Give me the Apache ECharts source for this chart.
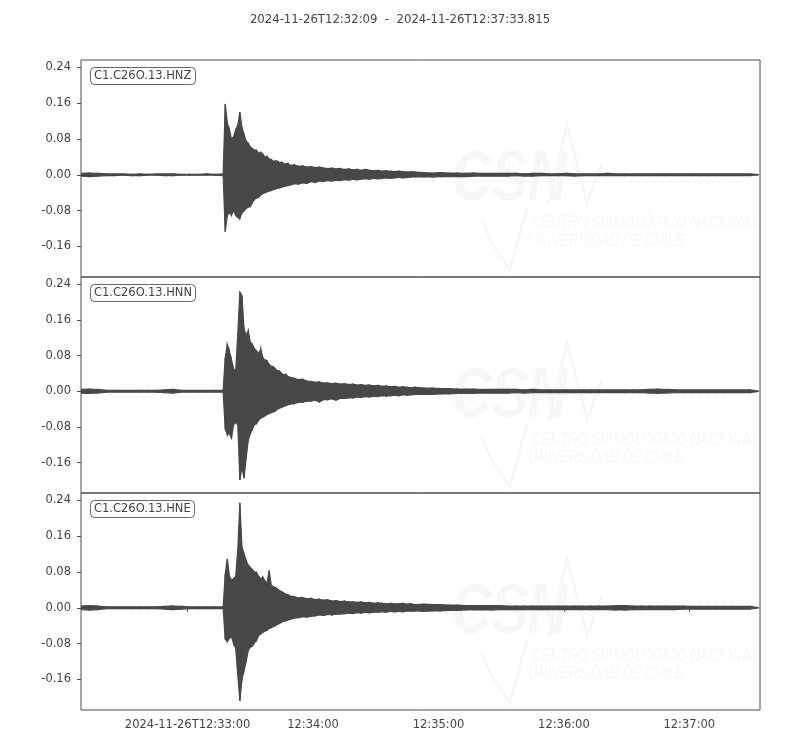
<!DOCTYPE html>
<html>
<head>
<meta charset="utf-8">
<script src="https://cdn.jsdelivr.net/npm/echarts@6/dist/echarts.min.js"></script>
<style>
  html, body { margin: 0; padding: 0; background: #fff; }
  #chart { width: 800px; height: 750px; }
</style>
</head>
<body>
<div id="chart"></div>
<script>
// seconds after 2024-11-26T12:32:09, one envelope bin per entry
const times = [
  0, 4, 8, 12, 16, 20, 24, 28, 32, 36, 40, 44, 48, 52, 56, 60, 64,
  68, 69, 70, 71, 72, 73, 74, 75, 76, 77, 78, 79, 80, 81, 82, 83, 84,
  85, 86, 87, 88, 89, 90, 91, 92, 93, 94, 95, 96, 97, 98, 99, 100,
  102, 104, 106, 108, 110, 112, 114, 116, 118, 120, 122, 124, 126, 128, 130,
  132, 134, 136, 138, 140, 142, 144, 146, 148, 150, 152, 154, 156, 158, 160,
  164, 168, 172, 176, 180, 184, 188, 192, 196, 200, 204, 208, 212, 216, 220,
  224, 228, 232, 236, 240, 244, 248, 252, 256, 260, 264, 268, 272, 276, 280,
  284, 288, 292, 296, 300, 304, 308, 312, 316, 320, 324
];
const endSec = 324.815;

// C1.C26O.13.HNZ envelope (max / min per bin)
const hnzMax = [
  0.003, 0.004, 0.003, 0.002, 0.002, 0.002, 0.001, 0.002, 0.001, 0.002, 0.002, 0.002, 0.001, 0.001, 0.001, 0.002, 0.001,
  0.002, 0.158, 0.115, 0.100, 0.080, 0.085, 0.100, 0.110, 0.140, 0.105, 0.090, 0.075, 0.070, 0.062, 0.058, 0.055, 0.054,
  0.048, 0.050, 0.046, 0.039, 0.041, 0.035, 0.034, 0.030, 0.031, 0.030, 0.027, 0.028, 0.025, 0.024, 0.025, 0.021,
  0.022, 0.019, 0.020, 0.017, 0.018, 0.016, 0.017, 0.015, 0.014, 0.015, 0.013, 0.014, 0.012, 0.013, 0.011,
  0.012, 0.010, 0.012, 0.010, 0.009, 0.010, 0.008, 0.009, 0.008, 0.007, 0.008, 0.007, 0.006, 0.007, 0.006,
  0.005, 0.004, 0.005, 0.004, 0.004, 0.003, 0.004, 0.003, 0.003, 0.003, 0.003, 0.003, 0.002, 0.003, 0.003,
  0.002, 0.002, 0.003, 0.002, 0.002, 0.002, 0.002, 0.003, 0.002, 0.002, 0.002, 0.002, 0.002, 0.002, 0.002,
  0.002, 0.002, 0.002, 0.002, 0.002, 0.002, 0.002, 0.002, 0.002, 0.002, 0.0005
];
const hnzMin = [
  -0.003, -0.004, -0.003, -0.002, -0.002, -0.001, -0.002, -0.002, -0.001, -0.001, -0.002, -0.002, -0.001, -0.001, -0.001, -0.001, -0.001,
  -0.002, -0.127, -0.090, -0.085, -0.090, -0.080, -0.090, -0.095, -0.097, -0.085, -0.080, -0.075, -0.072, -0.070, -0.062, -0.055, -0.052,
  -0.050, -0.045, -0.042, -0.040, -0.038, -0.036, -0.035, -0.033, -0.032, -0.030, -0.029, -0.028, -0.026, -0.025, -0.024, -0.023,
  -0.020, -0.021, -0.018, -0.019, -0.015, -0.017, -0.014, -0.015, -0.013, -0.014, -0.012, -0.013, -0.011, -0.012, -0.010,
  -0.011, -0.010, -0.009, -0.010, -0.008, -0.009, -0.008, -0.007, -0.008, -0.007, -0.006, -0.007, -0.006, -0.005, -0.005,
  -0.005, -0.005, -0.004, -0.004, -0.004, -0.004, -0.003, -0.003, -0.003, -0.003, -0.003, -0.002, -0.003, -0.003, -0.002,
  -0.002, -0.002, -0.002, -0.003, -0.002, -0.002, -0.002, -0.002, -0.002, -0.002, -0.002, -0.002, -0.002, -0.002, -0.002,
  -0.002, -0.002, -0.002, -0.002, -0.002, -0.002, -0.002, -0.002, -0.002, -0.002, -0.0005
];

// C1.C26O.13.HNN envelope
const hnnMax = [
  0.004, 0.005, 0.004, 0.002, 0.002, 0.002, 0.002, 0.002, 0.002, 0.002, 0.003, 0.004, 0.002, 0.002, 0.002, 0.002, 0.002,
  0.002, 0.075, 0.105, 0.090, 0.070, 0.050, 0.045, 0.130, 0.222, 0.214, 0.140, 0.125, 0.136, 0.110, 0.105, 0.095, 0.090,
  0.085, 0.094, 0.075, 0.070, 0.068, 0.060, 0.056, 0.055, 0.050, 0.046, 0.045, 0.040, 0.037, 0.038, 0.033, 0.031,
  0.029, 0.026, 0.027, 0.023, 0.022, 0.020, 0.021, 0.018, 0.019, 0.017, 0.018, 0.016, 0.017, 0.015, 0.016,
  0.014, 0.015, 0.013, 0.014, 0.012, 0.013, 0.011, 0.012, 0.010, 0.011, 0.009, 0.010, 0.009, 0.008, 0.009,
  0.007, 0.007, 0.006, 0.006, 0.005, 0.005, 0.005, 0.004, 0.004, 0.004, 0.004, 0.004, 0.003, 0.004, 0.003,
  0.003, 0.003, 0.003, 0.003, 0.003, 0.003, 0.003, 0.003, 0.003, 0.003, 0.003, 0.003, 0.004, 0.005, 0.004,
  0.003, 0.003, 0.003, 0.003, 0.003, 0.003, 0.003, 0.003, 0.003, 0.003, 0.0005
];
const hnnMin = [
  -0.004, -0.005, -0.004, -0.002, -0.002, -0.002, -0.002, -0.002, -0.002, -0.002, -0.003, -0.004, -0.002, -0.002, -0.002, -0.002, -0.002,
  -0.002, -0.085, -0.097, -0.095, -0.105, -0.075, -0.070, -0.075, -0.199, -0.170, -0.195, -0.150, -0.110, -0.095, -0.085, -0.075, -0.072,
  -0.065, -0.060, -0.058, -0.055, -0.052, -0.050, -0.048, -0.046, -0.044, -0.040, -0.038, -0.036, -0.034, -0.032, -0.030, -0.029,
  -0.028, -0.025, -0.025, -0.022, -0.022, -0.020, -0.024, -0.019, -0.019, -0.017, -0.020, -0.016, -0.016, -0.015, -0.015,
  -0.013, -0.014, -0.012, -0.013, -0.011, -0.012, -0.010, -0.011, -0.010, -0.009, -0.010, -0.008, -0.009, -0.008, -0.007,
  -0.007, -0.007, -0.006, -0.006, -0.005, -0.005, -0.005, -0.004, -0.004, -0.004, -0.004, -0.003, -0.004, -0.003, -0.003,
  -0.003, -0.003, -0.003, -0.003, -0.003, -0.003, -0.003, -0.003, -0.003, -0.003, -0.003, -0.003, -0.004, -0.005, -0.004,
  -0.003, -0.003, -0.003, -0.003, -0.003, -0.003, -0.003, -0.003, -0.003, -0.003, -0.0005
];

// C1.C26O.13.HNE envelope
const hneMax = [
  0.004, 0.005, 0.004, 0.002, 0.002, 0.002, 0.002, 0.002, 0.002, 0.002, 0.003, 0.004, 0.003, 0.002, 0.002, 0.002, 0.002,
  0.002, 0.075, 0.109, 0.070, 0.062, 0.065, 0.070, 0.130, 0.234, 0.135, 0.120, 0.105, 0.095, 0.090, 0.085, 0.080, 0.078,
  0.070, 0.065, 0.068, 0.060, 0.055, 0.083, 0.050, 0.047, 0.045, 0.042, 0.038, 0.036, 0.033, 0.030, 0.029, 0.026,
  0.025, 0.022, 0.023, 0.020, 0.021, 0.018, 0.019, 0.017, 0.018, 0.015, 0.016, 0.014, 0.015, 0.013, 0.013,
  0.012, 0.013, 0.011, 0.012, 0.010, 0.011, 0.010, 0.009, 0.010, 0.009, 0.009, 0.010, 0.008, 0.009, 0.007,
  0.008, 0.007, 0.007, 0.006, 0.006, 0.005, 0.005, 0.005, 0.005, 0.005, 0.004, 0.004, 0.004, 0.004, 0.004,
  0.004, 0.004, 0.004, 0.004, 0.004, 0.004, 0.004, 0.004, 0.005, 0.005, 0.004, 0.004, 0.004, 0.004, 0.004,
  0.004, 0.004, 0.003, 0.003, 0.003, 0.003, 0.003, 0.003, 0.003, 0.003, 0.0005
];
const hneMin = [
  -0.004, -0.005, -0.004, -0.002, -0.002, -0.002, -0.002, -0.002, -0.002, -0.002, -0.003, -0.004, -0.003, -0.002, -0.002, -0.002, -0.002,
  -0.002, -0.070, -0.075, -0.068, -0.065, -0.080, -0.090, -0.150, -0.208, -0.160, -0.140, -0.120, -0.095, -0.088, -0.085, -0.078, -0.072,
  -0.062, -0.058, -0.055, -0.052, -0.050, -0.046, -0.044, -0.042, -0.040, -0.037, -0.035, -0.032, -0.030, -0.029, -0.027, -0.026,
  -0.023, -0.022, -0.020, -0.021, -0.019, -0.018, -0.016, -0.017, -0.015, -0.016, -0.014, -0.014, -0.013, -0.012, -0.013,
  -0.011, -0.012, -0.010, -0.011, -0.010, -0.010, -0.009, -0.010, -0.008, -0.009, -0.008, -0.009, -0.007, -0.008, -0.007,
  -0.008, -0.007, -0.007, -0.006, -0.006, -0.005, -0.005, -0.005, -0.005, -0.004, -0.004, -0.004, -0.004, -0.004, -0.004,
  -0.004, -0.004, -0.004, -0.004, -0.004, -0.004, -0.004, -0.004, -0.005, -0.005, -0.004, -0.004, -0.004, -0.004, -0.004,
  -0.004, -0.003, -0.003, -0.003, -0.003, -0.003, -0.003, -0.003, -0.003, -0.003, -0.0005
];

const traceNames = ['C1.C26O.13.HNZ', 'C1.C26O.13.HNN', 'C1.C26O.13.HNE'];
const yTicks = [-0.16, -0.08, 0.0, 0.08, 0.16, 0.24];
const xTickSecs = [51, 111, 171, 231, 291];
const xTickLabels = ['2024-11-26T12:33:00', '12:34:00', '12:35:00', '12:36:00', '12:37:00'];
const titleText = '2024-11-26T12:32:09  -  2024-11-26T12:37:33.815';

const chart = echarts.init(document.getElementById('chart'));

// one row per bin pair: [t0, max0, min0, t1, max1, min1]
function bands(maxs, mins) {
  const rows = [];
  for (let i = 0; i < times.length - 1; i++) {
    rows.push([times[i], maxs[i], mins[i], times[i + 1], maxs[i + 1], mins[i + 1]]);
  }
  return rows;
}

const traceColor = '#484848';

function renderBand(params, api) {
  const a = api.coord([api.value(0), api.value(1)]);
  const b = api.coord([api.value(3), api.value(4)]);
  const c = api.coord([api.value(3), api.value(5)]);
  const d = api.coord([api.value(0), api.value(2)]);
  return {
    type: 'polygon',
    shape: { points: [a, b, c, d] },
    style: { fill: traceColor, stroke: traceColor, lineWidth: 1.2 }
  };
}

const envelopes = [[hnzMax, hnzMin], [hnnMax, hnnMin], [hneMax, hneMin]];
const tops = [60, 277, 493];
const heights = [217, 216, 217];
const font = 'DejaVu Sans';
const textColor = '#444';
const frameColor = '#4d4d4d';

const grids = tops.map((top, i) => ({
  left: 81, right: 40, top: top, height: heights[i],
  show: true, borderColor: frameColor, borderWidth: 1,
  backgroundColor: 'transparent'
}));

const xAxes = tops.map((_, i) => ({
  type: 'value', gridIndex: i, min: 0, max: endSec,
  show: i === 2,
  axisLine: { show: false },
  splitLine: { show: false },
  axisTick: {
    show: true, length: 4, customValues: xTickSecs,
    lineStyle: { color: frameColor }
  },
  axisLabel: {
    customValues: xTickSecs, margin: 9,
    color: textColor, fontSize: 11.5, fontFamily: font,
    formatter: v => {
      const k = xTickSecs.findIndex(s => Math.abs(s - v) < 0.01);
      return k >= 0 ? xTickLabels[k] : '';
    }
  }
}));

const yAxes = tops.map((_, i) => ({
  type: 'value', gridIndex: i, min: -0.228, max: 0.256,
  axisLine: { show: false },
  splitLine: { show: false },
  axisTick: {
    show: true, length: 4, customValues: yTicks,
    lineStyle: { color: frameColor }
  },
  axisLabel: {
    customValues: yTicks, margin: 10,
    color: textColor, fontSize: 11.5, fontFamily: font,
    formatter: v => v.toFixed(2)
  }
}));

const series = envelopes.map((env, i) => ({
  type: 'custom', xAxisIndex: i, yAxisIndex: i,
  data: bands(env[0], env[1]),
  renderItem: renderBand,
  encode: { x: [0, 3], y: [1, 2, 4, 5] },
  clip: true, silent: true,
  z: 3
}));

const titles = [{
  text: titleText, left: 'center', top: 9,
  textStyle: { fontSize: 11.7, fontWeight: 'normal', color: textColor, fontFamily: font }
}].concat(traceNames.map((name, i) => ({
  text: name, left: 90, top: tops[i] + 7,
  borderColor: '#666', borderWidth: 1, borderRadius: 4, padding: [3, 4],
  backgroundColor: 'rgba(255,255,255,0.8)',
  textStyle: { fontSize: 11.5, fontWeight: 'normal', color: textColor, fontFamily: font }
})));

// faint CSN watermark in each panel
const wmColor = '#f7f7f7';
const graphics = [];
tops.forEach((top, i) => {
  const dy = top - 60;
  graphics.push(
    { type: 'text', x: 452, y: 146 + dy, scaleX: 0.78, z: 1, silent: true,
      style: { text: 'CSN', fill: wmColor, font: 'italic bold 70px "Liberation Sans"' } },
    { type: 'polyline', y: dy, z: 1, silent: true,
      shape: { points: [[548, 205], [567, 125], [587, 203], [602, 163]] },
      style: { stroke: wmColor, lineWidth: 3, fill: null } },
    { type: 'polyline', y: dy, z: 1, silent: true,
      shape: { points: [[482, 220], [490, 240], [510, 270], [527, 207]] },
      style: { stroke: wmColor, lineWidth: 3, fill: null } },
    { type: 'text', x: 532, y: 213 + dy, scaleX: 0.7, z: 1, silent: true,
      style: { text: 'CENTRO SISMOLÓGICO NACIONAL', fill: wmColor, font: 'italic 19px "Liberation Sans"' } },
    { type: 'text', x: 528, y: 231 + dy, scaleX: 0.7, z: 1, silent: true,
      style: { text: 'UNIVERSIDAD DE CHILE', fill: wmColor, font: 'italic 19px "Liberation Sans"' } }
  );
});

chart.setOption({
  animation: false,
  backgroundColor: '#fff',
  title: titles,
  grid: grids,
  xAxis: xAxes,
  yAxis: yAxes,
  series: series,
  graphic: { elements: graphics }
});
</script>
</body>
</html>
